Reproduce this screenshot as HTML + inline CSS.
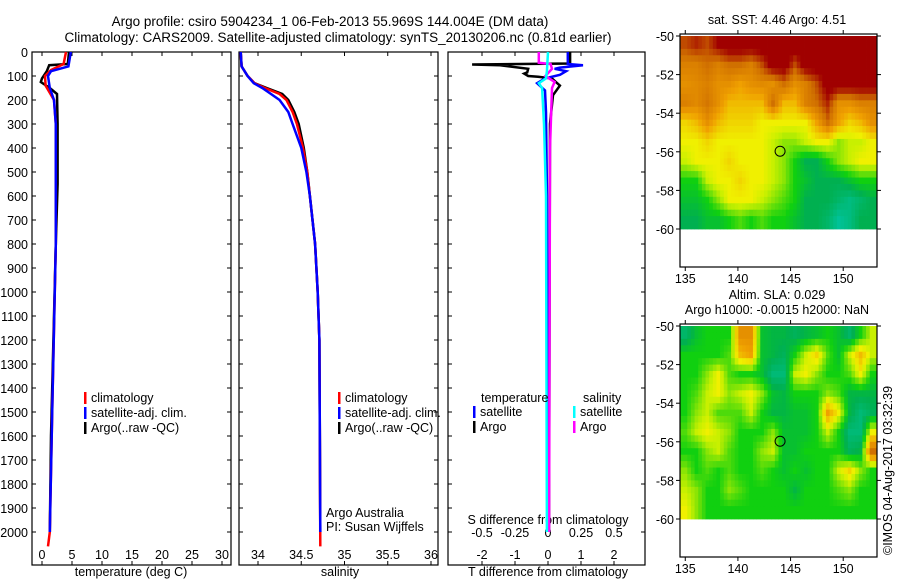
<!DOCTYPE html>
<html><head><meta charset="utf-8">
<style>
html,body{margin:0;padding:0;background:#fff;}
svg{display:block;font-family:"Liberation Sans",sans-serif;}
</style></head>
<body>
<svg id="fig" width="900" height="580" viewBox="0 0 900 580">
<text x="330" y="26" font-size="13.5" text-anchor="middle">Argo profile: csiro 5904234_1 06-Feb-2013 55.969S 144.004E (DM data)</text>
<text x="338" y="42" font-size="13.5" text-anchor="middle">Climatology: CARS2009. Satellite-adjusted climatology: synTS_20130206.nc (0.81d earlier)</text>
</svg>
<script>
// ---------- data ----------
const depthTicks=[0,100,200,300,400,500,600,700,800,900,1000,1100,1200,1300,1400,1500,1600,1700,1800,1900,2000];
const tempTicks=[0,5,10,15,20,25,30];
const salTicks=[34,34.5,35,35.5,36];
const salTickLabels=["34","34.5","35","35.5","36"];
const tdiffTicks=[-2,-1,0,1,2];
const sdiffTicks=[-0.5,-0.25,0,0.25,0.5];
const sdiffTickLabels=["-0.5","-0.25","0","0.25","0.5"];

const argoTempDepth=[0,50,55,80,110,125,150,175,300,550,800,1200,1600,2000];
const argoTemp=[4.5,4.3,1.2,0.8,0.0,-0.2,1.3,2.5,2.6,2.6,2.3,1.9,1.5,1.3];
const climTempDepth=[0,50,75,100,140,200,300,800,1500,2000,2060];
const climTemp=[4.0,3.6,1.5,0.5,0.6,2.0,2.3,2.3,1.7,1.3,1.0];
const satTempDepth=[0,60,80,100,150,200,300,800,1500,2000];
const satTemp=[4.8,4.4,1.5,1.0,1.3,2.0,2.3,2.3,1.7,1.3];

const argoSalDepth=[0,60,100,130,150,175,200,250,300,400,500,600,800,1000,1200,2000];
const argoSal=[33.8,33.81,33.88,33.96,34.1,34.28,34.35,34.42,34.47,34.53,34.57,34.6,34.66,34.69,34.71,34.72];
const climSalDepth=[0,60,100,130,150,175,200,250,300,400,500,600,800,1000,1200,2060];
const climSal=[33.8,33.81,33.88,33.96,34.08,34.25,34.33,34.4,34.45,34.52,34.57,34.6,34.66,34.69,34.71,34.72];
const satSalDepth=[0,60,100,130,150,175,200,250,300,400,500,600,800,1000,1200,2000];
const satSal=[33.8,33.81,33.88,33.95,34.05,34.15,34.25,34.35,34.4,34.5,34.56,34.6,34.66,34.69,34.71,34.72];

const argoTdiffDepth=[0,48,52,55,70,85,90,100,103,110,125,140,180,300,2000];
const argoTdiff=[0.67,0.67,-2.3,-1.45,-0.6,-0.63,-0.72,-0.6,-0.3,0.12,0.24,0.36,0.15,0.06,0.03];
const satTdiffDepth=[0,45,50,55,65,70,80,95,110,130,160,250,600,2000];
const satTdiff=[0.6,0.6,0.6,1.06,0.36,0.2,0.55,0.36,-0.09,-0.33,-0.09,-0.06,-0.03,0];
const argoSdiffDepth=[0,45,50,70,100,125,150,400,2000];
const argoSdiff=[-0.07,-0.07,0.02,0.03,-0.02,0.05,0.03,0.015,0.008];
const satSdiffDepth=[0,80,110,130,150,300,600,2000];
const satSdiff=[0,-0.008,-0.015,-0.07,-0.045,-0.03,-0.015,-0.008];

// map grids: rows from -50 (north) to -60, 18 columns 135..153 (colour index 0..1)
const sstGrid=[
[0.85,0.9,0.85,0.95,1,1,1,1,1,1,1,1,1,1,1,1,1,1],
[0.75,0.75,0.8,0.75,0.8,0.8,0.75,0.85,1,1,0.85,1,1,1,1,1,1,1],
[0.7,0.72,0.75,0.7,0.7,0.65,0.7,0.72,0.7,0.8,0.7,0.75,0.85,1,1,1,1,1],
[0.75,0.72,0.78,0.7,0.6,0.6,0.6,0.6,0.8,0.6,0.6,0.75,0.8,0.9,0.7,0.7,0.75,0.75],
[0.55,0.6,0.7,0.6,0.55,0.55,0.55,0.5,0.5,0.5,0.5,0.5,0.65,0.8,0.65,0.55,0.6,0.7],
[0.5,0.5,0.55,0.5,0.5,0.5,0.5,0.5,0.45,0.4,0.4,0.45,0.5,0.5,0.4,0.45,0.45,0.5],
[0.45,0.5,0.5,0.5,0.55,0.5,0.5,0.5,0.45,0.4,0.3,0.2,0.2,0.3,0.4,0.45,0.5,0.5],
[0.3,0.3,0.45,0.5,0.5,0.55,0.5,0.5,0.45,0.4,0.3,0.25,0.2,0.2,0.2,0.25,0.3,0.3],
[0.25,0.25,0.3,0.4,0.5,0.5,0.5,0.45,0.4,0.35,0.3,0.2,0.2,0.2,0.15,0.1,0.15,0.2],
[0.2,0.2,0.25,0.25,0.3,0.35,0.3,0.35,0.3,0.3,0.25,0.2,0.2,0.15,0.05,0.1,0.2,0.2]];
const slaGrid=[
[0.15,0.25,0.3,0.3,0.3,0.7,0.7,0.25,0.22,0.22,0.18,0.22,0.25,0.3,0.25,0.15,0.3,0.45],
[0.3,0.3,0.3,0.3,0.35,0.6,0.65,0.25,0.22,0.18,0.3,0.45,0.55,0.35,0.25,0.45,0.6,0.45],
[0.3,0.3,0.4,0.5,0.35,0.3,0.3,0.25,0.12,0.12,0.45,0.5,0.4,0.3,0.3,0.35,0.5,0.3],
[0.3,0.35,0.45,0.5,0.4,0.45,0.5,0.4,0.25,0.22,0.3,0.3,0.3,0.4,0.35,0.22,0.22,0.22],
[0.3,0.4,0.45,0.35,0.35,0.35,0.45,0.3,0.22,0.22,0.25,0.25,0.3,0.65,0.5,0.22,0.12,0.18],
[0.35,0.45,0.5,0.45,0.4,0.3,0.3,0.3,0.4,0.25,0.25,0.25,0.3,0.45,0.3,0.12,0.12,0.5],
[0.3,0.3,0.4,0.45,0.35,0.3,0.3,0.4,0.45,0.25,0.25,0.3,0.3,0.3,0.3,0.18,0.22,0.8],
[0.4,0.3,0.35,0.3,0.35,0.3,0.3,0.35,0.3,0.25,0.3,0.25,0.3,0.3,0.45,0.55,0.4,0.3],
[0.45,0.4,0.3,0.3,0.4,0.35,0.3,0.3,0.3,0.3,0.22,0.3,0.3,0.3,0.35,0.4,0.3,0.3],
[0.5,0.4,0.3,0.3,0.3,0.3,0.3,0.3,0.3,0.3,0.3,0.3,0.3,0.3,0.3,0.3,0.3,0.3]];
const lonTicks=[135,140,145,150];
const latTicks=[-50,-52,-54,-56,-58,-60];
const argoLon=[144.004];
const argoLat=[-55.969];

// ---------- helpers ----------
const NS="http://www.w3.org/2000/svg";
const svg=document.getElementById('fig');
function mk(tag,attrs,parent){const e=document.createElementNS(NS,tag);for(const k in attrs)e.setAttribute(k,attrs[k]);(parent||svg).appendChild(e);return e;}
function txt(x,y,s,size,anchor,parent){const t=mk('text',{x:x,y:y,'font-size':size,'text-anchor':anchor||'middle'},parent);t.textContent=s;return t;}

const yTop=52,yBot=565;
const yD=d=>yTop+d*0.24;

function panel(name,x0,x1){
  const g=mk('g',{});
  
  
  const r=mk('rect',{x:x0,y:yTop,width:x1-x0,height:yBot-yTop,fill:'#fff',stroke:'#000','stroke-width':1.2},g);
  
  
  depthTicks.forEach(d=>{mk('line',{x1:x0,x2:x0+4,y1:yD(d),y2:yD(d),stroke:'#000'},g);mk('line',{x1:x1-4,x2:x1,y1:yD(d),y2:yD(d),stroke:'#000'},g);});
  return g;
}
function xticks(g,ticks,labels,fx,yLab){
  ticks.forEach((v,i)=>{const x=fx(v);
    mk('line',{x1:x,x2:x,y1:yTop,y2:yTop+4,stroke:'#000'},g);
    mk('line',{x1:x,x2:x,y1:yBot-4,y2:yBot,stroke:'#000'},g);
    const t=txt(x,yLab,labels?labels[i]:String(v),12.5,'middle',g);
    
    
  });
}
function line(g,name,xs,ds,fx,color,w){
  const pts=xs.map((v,i)=>fx(v).toFixed(1)+','+yD(ds[i]).toFixed(1)).join(' ');
  const p=mk('polyline',{points:pts,fill:'none',stroke:color,'stroke-width':w||2.5,'stroke-linejoin':'miter'},g);
  
  
}
function legend(g,x,y,items){
  items.forEach((it,i)=>{
    mk('rect',{x:x,y:y+i*15-10,width:2.5,height:12,fill:it[1]},g);
    const t=txt(x+7,y+i*15,it[0],12.5,'start',g);
    
    
  });
}

// y labels
depthTicks.forEach(d=>{const t=txt(28,yD(d)+5,String(d),12.5,'end');
  
  });

// panel 1 temperature
const fT=v=>42+v*6;
const g1=panel('temperature-panel',32,231);
xticks(g1,tempTicks,null,fT,559);
line(g1,'argo-temperature-line',argoTemp,argoTempDepth,fT,'#000');
line(g1,'climatology-temperature-line',climTemp,climTempDepth,fT,'#f00');
line(g1,'satellite-temperature-line',satTemp,satTempDepth,fT,'#00f');
legend(g1,84,402,[['climatology','#f00'],['satellite-adj. clim.','#00f'],['Argo(..raw -QC)','#000']]);
let t=txt(131,576,'temperature (deg C)',12.5);

// panel 2 salinity
const fS=v=>258+(v-34)*86.5;
const g2=panel('salinity-panel',239,438);
xticks(g2,salTicks,salTickLabels,fS,559);
line(g2,'argo-salinity-line',argoSal,argoSalDepth,fS,'#000');
line(g2,'climatology-salinity-line',climSal,climSalDepth,fS,'#f00');
line(g2,'satellite-salinity-line',satSal,satSalDepth,fS,'#00f');
legend(g2,338,402,[['climatology','#f00'],['satellite-adj. clim.','#00f'],['Argo(..raw -QC)','#000']]);
t=txt(326,517,'Argo Australia',12.5,'start',g2);
t=txt(326,531,'PI: Susan Wijffels',12.5,'start',g2);
t=txt(340,576,'salinity',12.5);

// panel 3 differences
const fTd=v=>548+v*33;
const fSd=v=>548+v*132;
const g3=panel('difference-panel',448,645);
xticks(g3,tdiffTicks,null,fTd,559);
sdiffTicks.forEach((v,i)=>{const tt=txt(fSd(v),537,sdiffTickLabels[i],12.5,'middle',g3);});
t=txt(548,524,'S difference from climatology',12.5,'middle',g3);
line(g3,'argo-t-diff-line',argoTdiff,argoTdiffDepth,fTd,'#000');
line(g3,'satellite-t-diff-line',satTdiff,satTdiffDepth,fTd,'#00f');
line(g3,'argo-s-diff-line',argoSdiff,argoSdiffDepth,fSd,'#f0f');
line(g3,'satellite-s-diff-line',satSdiff,satSdiffDepth,fSd,'#0ff');
t=txt(481,402,'temperature',12.5,'start',g3);
t=txt(583,402,'salinity',12.5,'start',g3);
legend(g3,473,416,[['satellite','#00f'],['Argo','#000']]);
legend(g3,573,416,[['satellite','#0ff'],['Argo','#f0f']]);
t=txt(548,576,'T difference from climatology',12.5);

// maps
const stops=[[0,[0,200,176]],[0.2,[0,176,80]],[0.3,[16,208,16]],[0.45,[200,240,0]],[0.5,[240,240,0]],[0.65,[240,160,0]],[0.8,[208,112,0]],[0.95,[160,0,0]],[1,[160,0,0]]];
function cmap(v){for(let i=1;i<stops.length;i++){if(v<=stops[i][0]){const a=stops[i-1],b=stops[i];const f=(v-a[0])/(b[0]-a[0]||1);const c=a[1].map((x,k)=>Math.round(x+(b[1][k]-x)*f));return 'rgb('+c.join(',')+')';}}return 'rgb(160,0,0)';}
function sample(grid,fr,fc){
  const R=grid.length,C=grid[0].length;
  fr=Math.max(0,Math.min(R-1,fr));fc=Math.max(0,Math.min(C-1,fc));
  const r0=Math.floor(fr),c0=Math.floor(fc),r1=Math.min(R-1,r0+1),c1=Math.min(C-1,c0+1);
  const a=fr-r0,b=fc-c0;
  return grid[r0][c0]*(1-a)*(1-b)+grid[r0][c1]*(1-a)*b+grid[r1][c0]*a*(1-b)+grid[r1][c1]*a*b;
}
function mapPanel(name,oy,grid,title){
  const g=mk('g',{});
  
  
  const fx=lon=>680+(lon-134.5)*10.53, fy=lat=>oy+36+(-50-lat)*19.3;
  const C=grid[0].length,R=grid.length,S=3;
  const cw=(877-680)/(C*S), ch=19.3/S;
  for(let r=0;r<R*S;r++)for(let c=0;c<C*S;c++){
    const v=sample(grid,(r+0.5)/S-0.5,(c+0.5)/S-0.5);
    const cell=mk('rect',{x:(680+c*cw).toFixed(2),y:(oy+36+r*ch).toFixed(2),width:(cw+0.4).toFixed(2),height:(ch+0.4).toFixed(2),fill:cmap(v)},g);
    
    
  }
  const fr=mk('rect',{x:680,y:oy+34,width:197,height:233,fill:'none',stroke:'#000','stroke-width':1.2},g);
  
  
  lonTicks.forEach(l=>{mk('line',{x1:fx(l),x2:fx(l),y1:oy+34,y2:oy+30,stroke:'#000'},g);mk('line',{x1:fx(l),x2:fx(l),y1:oy+267,y2:oy+271,stroke:'#000'},g);
    const tt=txt(fx(l),oy+283,String(l),12.5,'middle',g);});
  latTicks.forEach(l=>{mk('line',{x1:676,x2:680,y1:fy(l),y2:fy(l),stroke:'#000'},g);mk('line',{x1:877,x2:881,y1:fy(l),y2:fy(l),stroke:'#000'},g);
    const tt=txt(674,fy(l)+5,String(l),12.5,'end',g);});
  const ci=mk('circle',{cx:fx(argoLon[0]),cy:fy(argoLat[0]),r:5,fill:'none',stroke:'#000','stroke-width':1},g);
  
  
  title.forEach((s,i)=>{const tt=txt(777,oy+24-(title.length-1-i)*15,s,12.5,'middle',g);});
}
mapPanel('sst-map',0,sstGrid,['sat. SST: 4.46 Argo: 4.51']);
mapPanel('sla-map',290,slaGrid,['Altim. SLA: 0.029','Argo h1000: -0.0015 h2000: NaN']);
t=txt(0,0,'©IMOS 04-Aug-2017 03:32:39',12.5,'start');
t.setAttribute('transform','translate(892,555) rotate(-90)');


</script>
</body></html>
